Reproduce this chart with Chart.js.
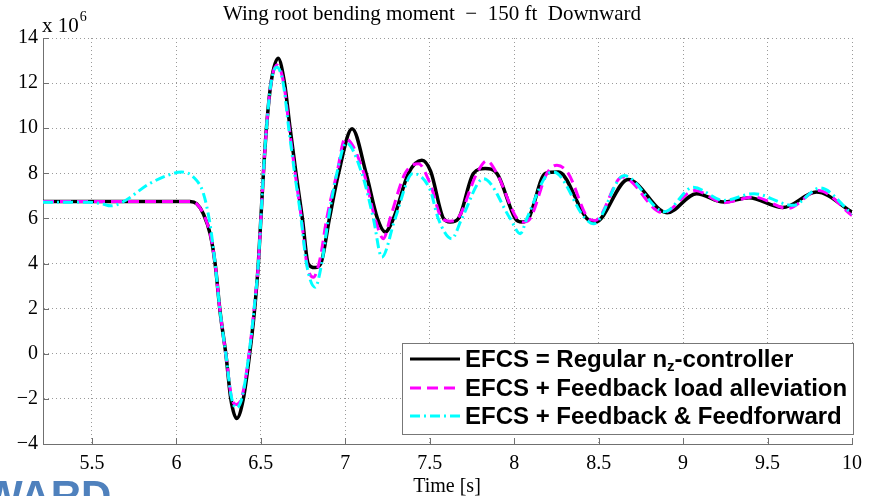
<!DOCTYPE html>
<html>
<head>
<meta charset="utf-8">
<script src="https://cdn.jsdelivr.net/npm/chart.js@4.4.0/dist/chart.umd.min.js"></script>
<style>
  html, body { margin: 0; padding: 0; background: #fff; overflow: hidden; }
  #wrap { position: relative; width: 872px; height: 496px; overflow: hidden; }
  #chart { position: absolute; left: 0; top: 0; }
  .corner-text { position: absolute; left: -17px; top: 475px; font: bold 42px "Liberation Sans", Arial, sans-serif; color: #4f81bd; line-height: 42px; }
</style>
</head>
<body>
<div id="wrap">
  <canvas id="chart" width="872" height="496"></canvas>
  <div class="corner-text">WARD</div>
</div>
<script>
// Wing root bending moment (x 10^6) vs time, three controller variants
const titleText = 'Wing root bending moment  \u2212  150 ft  Downward';
const xTitle = 'Time [s]';
const seriesLabels = ['EFCS = Regular n', 'EFCS + Feedback load alleviation', 'EFCS + Feedback & Feedforward'];
const xTicks = [5.5, 6, 6.5, 7, 7.5, 8, 8.5, 9, 9.5, 10];
const yTicks = [-4, -2, 0, 2, 4, 6, 8, 10, 12, 14];

const tRegular = [5.21, 5.8, 6.08, 6.12, 6.16, 6.2, 6.229, 6.258, 6.294, 6.322, 6.357, 6.396, 6.432, 6.462, 6.485, 6.5, 6.515, 6.533, 6.56, 6.602,
  6.64, 6.673, 6.708, 6.746, 6.78, 6.821, 6.855, 6.906, 6.96, 7.04, 7.123, 7.19, 7.236, 7.285, 7.374, 7.453, 7.505, 7.581, 7.621, 7.67,
  7.759, 7.828, 7.897, 8.006, 8.046, 8.085, 8.184, 8.262, 8.43, 8.48, 8.675, 8.905, 9.08, 9.24, 9.39, 9.59, 9.79, 10.0];
const vRegular = [6.75, 6.75, 6.75, 6.65, 6.2, 5.3, 4.0, 1.9, -0.1, -2.0, -2.87, -2.0, -0.1, 1.9, 4.0, 6.0, 8.0, 10.0, 12.0, 13.1,
  12.0, 10.0, 8.0, 6.0, 4.0, 3.82, 4.0, 6.0, 8.0, 9.98, 8.0, 6.0, 5.4, 6.0, 8.0, 8.58, 8.1, 6.0, 5.84, 6.0,
  8.0, 8.21, 8.0, 6.0, 5.84, 6.0, 8.0, 8.06, 6.0, 5.84, 7.73, 6.25, 7.1, 6.73, 6.92, 6.48, 7.17, 6.28];

const tFeedback = [5.21, 5.8, 6.08, 6.12, 6.16, 6.2, 6.229, 6.258, 6.294, 6.325, 6.355, 6.388, 6.43, 6.46, 6.485, 6.5, 6.515, 6.533, 6.56, 6.597,
  6.635, 6.668, 6.703, 6.74, 6.772, 6.811, 6.85, 6.89, 6.95, 6.999, 7.11, 7.176, 7.226, 7.265, 7.354, 7.433, 7.502, 7.572, 7.62, 7.665,
  7.779, 7.838, 7.897, 8.016, 8.055, 8.095, 8.194, 8.253, 8.32, 8.44, 8.48, 8.64, 8.88, 9.07, 9.24, 9.42, 9.62, 9.8, 10.0];
const vFeedback = [6.75, 6.75, 6.75, 6.65, 6.2, 5.3, 4.0, 1.9, -0.1, -1.9, -2.25, -1.9, 0.0, 2.0, 4.0, 6.0, 8.0, 10.0, 12.0, 12.8,
  12.0, 10.0, 8.0, 6.0, 4.0, 3.39, 4.2, 6.0, 8.0, 9.54, 8.0, 6.0, 5.1, 6.0, 8.0, 8.43, 7.54, 6.0, 5.88, 6.0,
  8.0, 8.55, 8.0, 6.0, 5.84, 6.0, 8.0, 8.36, 8.0, 6.0, 5.91, 7.84, 6.25, 7.24, 6.7, 6.95, 6.44, 7.24, 6.13];

const tFeedforward = [5.21, 5.48, 5.56, 5.61, 5.68, 5.84, 5.98, 6.03, 6.1, 6.16, 6.2, 6.229, 6.258, 6.294, 6.325, 6.355, 6.39, 6.43, 6.46, 6.485,
  6.5, 6.515, 6.533, 6.56, 6.595, 6.632, 6.665, 6.7, 6.738, 6.77, 6.821, 6.86, 6.9, 6.95, 7.005, 7.098, 7.166, 7.216, 7.295, 7.40,
  7.502, 7.55, 7.63, 7.69, 7.818, 7.976, 8.036, 8.075, 8.203, 8.233, 8.42, 8.47, 8.65, 8.89, 9.06, 9.24, 9.42, 9.65, 9.81, 10.0];
const vFeedforward = [6.72, 6.72, 6.65, 6.56, 6.72, 7.54, 7.99, 8.06, 7.84, 7.1, 5.7, 4.0, 1.9, -0.1, -1.9, -2.4, -1.9, 0.0, 2.0, 4.0,
  6.0, 8.0, 10.0, 12.0, 12.7, 12.0, 10.0, 8.0, 6.0, 4.0, 2.95, 4.0, 6.0, 8.0, 9.35, 8.0, 6.0, 4.28, 6.0, 7.99,
  7.27, 6.0, 5.1, 6.0, 7.76, 6.0, 5.32, 6.0, 8.0, 8.06, 6.0, 5.76, 7.9, 6.3, 7.38, 6.8, 7.1, 6.58, 7.35, 6.2];

const toPoints = (ts, vs) => ts.map((t, i) => ({ x: t, y: vs[i] }));

const serif = '"Liberation Serif", "Times New Roman", serif';
const sans = '"Liberation Sans", Arial, sans-serif';

const lineStyles = [
    { color: '#000000', dash: [], width: 3.5 },
    { color: '#ff00ff', dash: [11, 6], width: 3 },
    { color: '#00ffff', dash: [10, 4, 2, 4], width: 3 }
];

// draws the inner tick marks, title, exponent, x title and the legend box
const decorPlugin = {
    id: 'decor',
    afterDraw(chart) {
        const { ctx, chartArea: a, scales: { x, y } } = chart;
        ctx.save();

        // ticks pointing into the plot
        ctx.strokeStyle = '#707070';
        ctx.lineWidth = 1;
        ctx.beginPath();
        xTicks.forEach(v => {
            const px = Math.round(x.getPixelForValue(v)) + 0.5;
            ctx.moveTo(px, a.bottom);
            ctx.lineTo(px, a.bottom - 6);
        });
        yTicks.forEach(v => {
            const py = Math.round(y.getPixelForValue(v)) + 0.5;
            ctx.moveTo(a.left, py);
            ctx.lineTo(a.left + 6, py);
        });
        ctx.stroke();

        // title
        ctx.fillStyle = '#000';
        ctx.font = '21px ' + serif;
        ctx.textAlign = 'center';
        ctx.textBaseline = 'alphabetic';
        ctx.fillText(titleText, 432, 20);

        // x label
        ctx.font = '20px ' + serif;
        ctx.fillText(xTitle, 447, 492);

        // exponent
        ctx.textAlign = 'left';
        ctx.font = '21px ' + serif;
        ctx.fillText('x 10', 42, 32);
        const ew = ctx.measureText('x 10').width;
        ctx.font = '14px ' + serif;
        ctx.fillText('6', 42 + ew + 1, 21);

        // legend
        const lx = 402, ly = 343, lw = 451, lh = 91;
        ctx.fillStyle = '#fff';
        ctx.fillRect(lx, ly, lw, lh);
        ctx.strokeStyle = '#777';
        ctx.lineWidth = 1;
        ctx.strokeRect(lx + 0.5, ly + 0.5, lw, lh);

        const rows = [359, 388, 416];
        ctx.textBaseline = 'middle';
        rows.forEach((ry, i) => {
            ctx.strokeStyle = lineStyles[i].color;
            ctx.lineWidth = 3;
            ctx.setLineDash(lineStyles[i].dash);
            ctx.beginPath();
            ctx.moveTo(410, ry);
            ctx.lineTo(460, ry);
            ctx.stroke();
            ctx.setLineDash([]);

            ctx.fillStyle = '#000';
            ctx.font = 'bold 24px ' + sans;
            ctx.fillText(seriesLabels[i], 465, ry + 1);
            if (i === 0) {
                let w = ctx.measureText(seriesLabels[0]).width;
                ctx.font = 'bold 15px ' + sans;
                ctx.fillText('z', 465 + w, ry + 8);
                w += ctx.measureText('z').width;
                ctx.font = 'bold 24px ' + sans;
                ctx.fillText('-controller', 465 + w, ry + 1);
            }
        });

        ctx.restore();
    }
};

const datasets = [
    { data: toPoints(tRegular, vRegular), order: 3 },
    { data: toPoints(tFeedback, vFeedback), order: 2 },
    { data: toPoints(tFeedforward, vFeedforward), order: 1 }
].map((d, i) => Object.assign(d, {
    label: seriesLabels[i],
    borderColor: lineStyles[i].color,
    borderDash: lineStyles[i].dash,
    borderWidth: lineStyles[i].width,
    pointRadius: 0,
    fill: false,
    cubicInterpolationMode: 'monotone'
}));

new Chart(document.getElementById('chart'), {
    type: 'line',
    data: { datasets },
    options: {
        responsive: false,
        animation: false,
        layout: { padding: { left: 0, right: 20, top: 38, bottom: 0 } },
        plugins: {
            legend: { display: false },
            tooltip: { enabled: false }
        },
        scales: {
            x: {
                type: 'linear',
                min: 5.21,
                max: 10,
                afterBuildTicks: s => { s.ticks = xTicks.map(v => ({ value: v })); },
                afterFit: s => { s.height = 52; },
                ticks: {
                    font: { family: serif, size: 20 },
                    color: '#000',
                    padding: 8,
                    maxRotation: 0,
                    callback: v => String(v)
                },
                grid: { color: '#9a9a9a', lineWidth: 1, drawTicks: false },
                border: { display: true, color: '#707070', width: 1, dash: [1, 3] }
            },
            y: {
                min: -4,
                max: 14,
                afterBuildTicks: s => { s.ticks = yTicks.map(v => ({ value: v })); },
                afterFit: s => { s.width = 43; },
                ticks: {
                    font: { family: serif, size: 20 },
                    color: '#000',
                    padding: 5,
                    callback: v => String(v).replace('-', '\u2212')
                },
                grid: { color: '#9a9a9a', lineWidth: 1, drawTicks: false },
                border: { display: true, color: '#707070', width: 1, dash: [1, 3] }
            }
        }
    },
    plugins: [decorPlugin]
});
</script>
</body>
</html>
